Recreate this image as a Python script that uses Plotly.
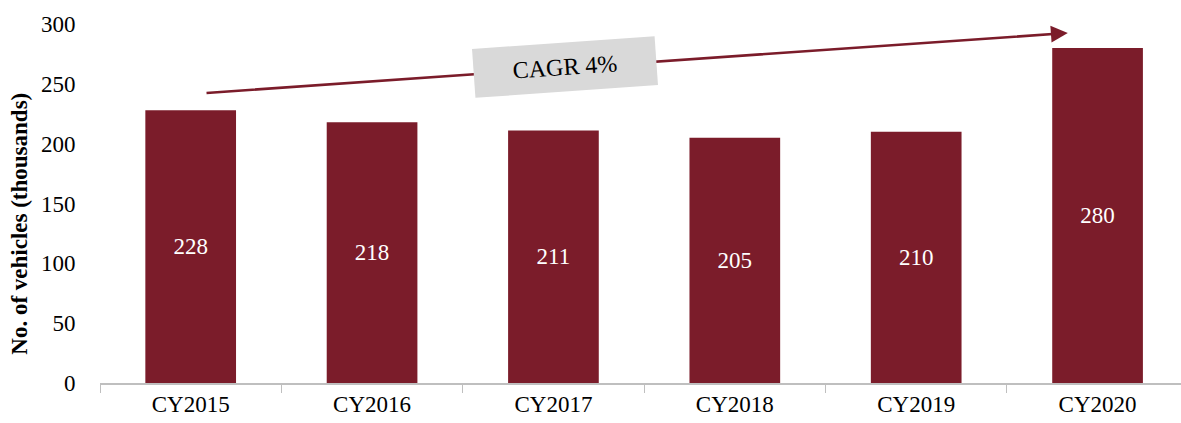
import plotly.graph_objects as go

# Vehicle sales by calendar year (thousands)
years = ["CY2015", "CY2016", "CY2017", "CY2018", "CY2019", "CY2020"]
vehicles = [228, 218, 211, 205, 210, 280]
cagr_label = "CAGR 4%"
y_title = "No. of vehicles (thousands)"

bar_color = "#7B1C2A"
font_family = "Liberation Serif, Times New Roman, serif"

fig = go.Figure(
    go.Bar(
        x=years,
        y=vehicles,
        marker=dict(color=bar_color, line=dict(width=0)),
        width=0.5,
        text=[str(v) for v in vehicles],
        textposition="inside",
        insidetextanchor="middle",
        textfont=dict(color="white", size=23, family=font_family),
    )
)

# Trend arrow from the first year to the last
fig.add_annotation(
    x=4.836, y=292.5, ax=0.079, ay=242.3,
    xref="x", yref="y", axref="x", ayref="y",
    showarrow=True, arrowhead=2, arrowsize=1.3, arrowwidth=2.6,
    arrowcolor=bar_color, text="",
)

# Growth-rate label on the arrow
fig.add_annotation(
    x=2.063, y=264.1,
    xref="x", yref="y", showarrow=False,
    text=cagr_label, textangle=-4,
    font=dict(size=24, family=font_family, color="black"),
    bgcolor="#D9D9D9", width=180, height=46,
)

# Vertical axis title
fig.add_annotation(
    x=-0.0745, xref="paper", y=0.445, yref="paper",
    xanchor="center", yanchor="middle", showarrow=False,
    text=f"<b>{y_title}</b>", textangle=-90,
    font=dict(size=23, family=font_family, color="black"),
)

fig.update_layout(
    width=1181, height=423,
    margin=dict(l=100, r=0, t=24, b=40),
    plot_bgcolor="white", paper_bgcolor="white",
    showlegend=False,
    font=dict(family=font_family, size=23, color="black"),
    xaxis=dict(
        range=[-0.5, 5.46],
        showline=True, linecolor="#BFBFBF", linewidth=1.5,
        ticks="outside", tickson="boundaries", ticklen=8, tickcolor="#BFBFBF",
        tickfont=dict(size=23, family=font_family),
        showgrid=False,
    ),
    yaxis=dict(
        range=[0, 300], dtick=50,
        showgrid=False, zeroline=False, showline=False,
        ticks="outside", ticklen=19, tickcolor="rgba(0,0,0,0)",
        tickfont=dict(size=23, family=font_family),
    ),
)

fig.write_html("out.html")
